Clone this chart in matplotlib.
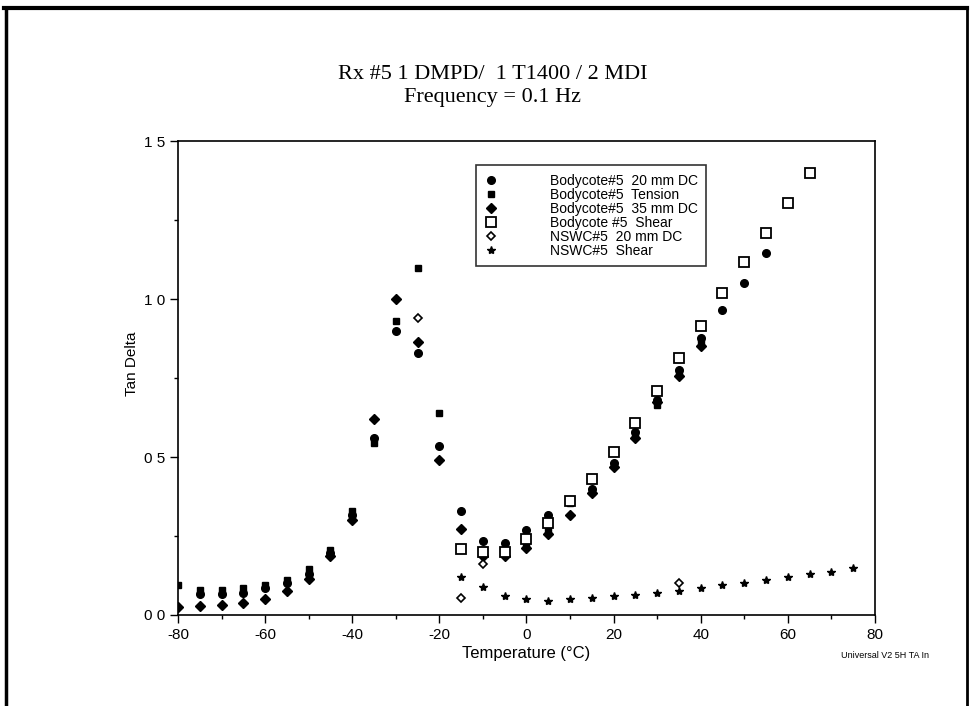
import matplotlib
matplotlib.use('Agg')
import matplotlib.pyplot as plt
from matplotlib.lines import Line2D

# Bodycote#5 20 mm DC (filled circle)
t_dc20 = [-75, -70, -65, -60, -55, -50, -45, -40, -35, -30, -25, -20, -15, -10, -5,
          0, 5, 10, 15, 20, 25, 30, 35, 40, 45, 50, 55]
v_dc20 = [0.065, 0.065, 0.07, 0.085, 0.10, 0.13, 0.195, 0.315, 0.56, 0.90, 0.83, 0.535, 0.33, 0.235, 0.228,
          0.27, 0.315, 0.36, 0.40, 0.48, 0.58, 0.68, 0.775, 0.877, 0.965, 1.05, 1.145]

# Bodycote#5 Tension (filled square)
t_ten = [-80, -75, -70, -65, -60, -55, -50, -45, -40, -35, -30, -25, -20, -10, -5,
         0, 5, 10, 15, 20, 25, 30, 35, 40]
v_ten = [0.095, 0.08, 0.08, 0.085, 0.095, 0.11, 0.145, 0.205, 0.33, 0.545, 0.93, 1.10, 0.64, 0.205, 0.195,
         0.22, 0.265, 0.355, 0.39, 0.475, 0.57, 0.665, 0.765, 0.86]

# Bodycote#5 35 mm DC (filled diamond)
t_dc35 = [-80, -75, -70, -65, -60, -55, -50, -45, -40, -35, -30, -25, -20, -15, -10, -5,
          0, 5, 10, 15, 20, 25, 30, 35, 40]
v_dc35 = [0.026, 0.028, 0.03, 0.037, 0.05, 0.075, 0.115, 0.185, 0.30, 0.62, 1.00, 0.865, 0.49, 0.272, 0.185, 0.185,
          0.212, 0.256, 0.316, 0.385, 0.468, 0.56, 0.675, 0.755, 0.85]

# Bodycote #5 Shear (open square)
t_bsh = [-15, -10, -5, 0, 5, 10, 15, 20, 25, 30, 35, 40, 45, 50, 55, 60, 65]
v_bsh = [0.21, 0.20, 0.20, 0.24, 0.29, 0.36, 0.43, 0.515, 0.607, 0.71, 0.813, 0.915, 1.02, 1.117, 1.21, 1.304, 1.40]

# NSWC#5 20 mm DC
t_ndc = [-25, -15, -10, 35]
v_ndc = [0.94, 0.055, 0.16, 0.10]

# NSWC#5 Shear (star)
t_nsh = [-15, -10, -5, 0, 5, 10, 15, 20, 25, 30, 35, 40, 45, 50, 55, 60, 65, 70, 75]
v_nsh = [0.12, 0.09, 0.06, 0.05, 0.045, 0.05, 0.055, 0.06, 0.062, 0.07, 0.075, 0.085, 0.095, 0.10,
         0.11, 0.12, 0.13, 0.136, 0.149]

labels = ['Bodycote#5  20 mm DC', 'Bodycote#5  Tension', 'Bodycote#5  35 mm DC',
          'Bodycote #5  Shear', 'NSWC#5  20 mm DC', 'NSWC#5  Shear']

plt.rcParams['font.family'] = ['Liberation Sans', 'DejaVu Sans']
plt.rcParams['axes.unicode_minus'] = False

fig = plt.figure(figsize=(9.71, 7.06), dpi=100)
ax = fig.add_axes([0.1833, 0.129, 0.7177, 0.671])

ax.plot(t_dc20, v_dc20, 'o', color='black', ms=5.5, label=labels[0])
ax.plot(t_ten, v_ten, 's', color='black', ms=5, label=labels[1])
ax.plot(t_dc35, v_dc35, 'D', color='black', ms=5, label=labels[2])
ax.plot(t_bsh, v_bsh, 's', mfc='white', mec='black', mew=1.3, ms=6.5, label=labels[3])
ax.plot(t_ndc, v_ndc, 'D', mfc='white', mec='black', mew=1.2, ms=4.5, label=labels[4])
ax.plot(t_nsh, v_nsh, '*', color='black', ms=6, label=labels[5])

ax.set_xlim(-80, 80)
ax.set_ylim(0, 1.5)
ax.set_xticks([-80, -60, -40, -20, 0, 20, 40, 60, 80])
ax.set_xticks(range(-70, 80, 20), minor=True)
ax.set_yticks([0, 0.5, 1.0, 1.5])
ax.set_yticklabels(['0 0', '0 5', '1 0', '1 5'])
ax.set_yticks([0.25, 0.75, 1.25], minor=True)
ax.tick_params(which='major', direction='out', length=6, width=1, labelsize=11)
ax.tick_params(which='minor', direction='out', length=3, width=1)
for s in ax.spines.values():
    s.set_linewidth(1.2)

ax.set_xlabel('Temperature (°C)', fontsize=12, labelpad=3)
ax.set_ylabel('Tan Delta', fontsize=11, labelpad=3, y=0.53)

fig.text(0.507, 0.894, 'Rx #5 1 DMPD/  1 T1400 / 2 MDI', ha='center', va='center',
         fontsize=16, family='Liberation Serif')
fig.text(0.507, 0.862, 'Frequency = 0.1 Hz', ha='center', va='center',
         fontsize=16, family='Liberation Serif')
fig.text(0.957, 0.072, 'Universal V2 5H TA In', ha='right', va='center', fontsize=6.5)

leg = ax.legend(loc='upper left', bbox_to_anchor=(0.4275, 0.949), fontsize=10,
                frameon=True, fancybox=False, edgecolor='black', handlelength=1,
                handletextpad=3.7, labelspacing=0.0, borderpad=0.6, borderaxespad=0)
leg.get_frame().set_linewidth(1.2)

# page border (top, left, right)
fig.add_artist(Line2D([0.004, 0.996], [0.988, 0.988], color='black', lw=3))
fig.add_artist(Line2D([0.006, 0.006], [0.0, 0.988], color='black', lw=2.5))
fig.add_artist(Line2D([0.996, 0.996], [0.0, 0.988], color='black', lw=2))

fig.savefig('out.png', dpi=100)
